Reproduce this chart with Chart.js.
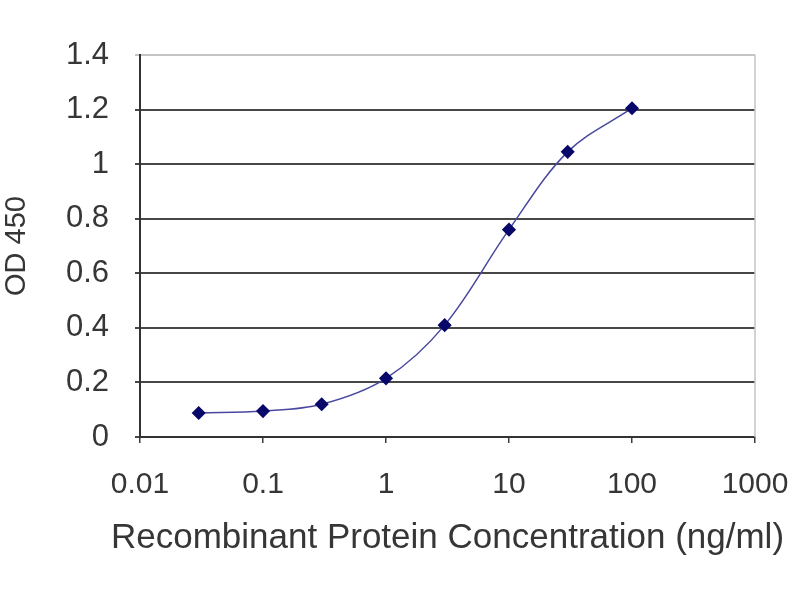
<!DOCTYPE html>
<html>
<head>
<meta charset="utf-8">
<script src="https://cdn.jsdelivr.net/npm/chart.js@4"></script>
<style>
  html, body { margin: 0; padding: 0; background: #fff; }
  #wrap { width: 800px; height: 600px; }
</style>
</head>
<body>
<div id="wrap"><canvas id="elisaCanvas" width="800" height="600"></canvas></div>
<script>
// concentrations (ng/ml) and measured OD 450
const concentrations = [0.03, 0.1, 0.3, 1, 3, 10, 30, 100];
const odValues = [0.088, 0.095, 0.12, 0.215, 0.41, 0.76, 1.045, 1.205];
const xTicks = [0.01, 0.1, 1, 10, 100, 1000];
const xTickLabels = ['0.01', '0.1', '1', '10', '100', '1000'];
const yTicks = [0, 0.2, 0.4, 0.6, 0.8, 1, 1.2, 1.4];
const xTitle = 'Recombinant Protein Concentration (ng/ml)';

const textColor = '#363636';
const fontFamily = '"Liberation Sans", Arial, sans-serif';

/* light grey right edge of the plot box + x title wider than the plot area */
const frameExtras = {
  id: 'frameExtras',
  afterDraw(chart) {
    const { ctx, chartArea: { left, right, top, bottom } } = chart;
    ctx.save();
    ctx.strokeStyle = '#c4c4c4';
    ctx.lineWidth = 1.5;
    ctx.beginPath();
    ctx.moveTo(right, top);
    ctx.lineTo(right, bottom);
    ctx.stroke();

    ctx.fillStyle = textColor;
    ctx.font = `35px ${fontFamily}`;
    ctx.textAlign = 'center';
    ctx.textBaseline = 'middle';
    ctx.fillText(xTitle, (left + right) / 2, bottom + 101);
    ctx.restore();
  },
};

const ctx = document.getElementById('elisaCanvas').getContext('2d');

window.elisaChart = new Chart(ctx, {
  type: 'line',
  data: {
    datasets: [
      {
        data: concentrations.map((x, i) => ({ x, y: odValues[i] })),
        borderColor: '#4848a0',
        borderWidth: 1.5,
        backgroundColor: '#08086a',
        pointBackgroundColor: '#08086a',
        pointBorderColor: '#08086a',
        pointStyle: 'rectRot',
        pointRadius: 6,
        tension: 0.35,
        fill: false,
      },
    ],
  },
  plugins: [frameExtras],
  options: {
    responsive: false,
    animation: false,
    layout: { padding: { top: 55, right: 45, left: 0, bottom: 36 } },
    plugins: {
      legend: { display: false },
      tooltip: { enabled: false },
    },
    scales: {
      x: {
        type: 'logarithmic',
        min: 0.01,
        max: 1000,
        afterBuildTicks(scale) {
          scale.ticks = xTicks.map(value => ({ value }));
        },
        afterFit(scale) {
          scale.height = 127;
          scale.paddingLeft = 0;
          scale.paddingRight = 0;
        },
        ticks: {
          autoSkip: false,
          maxRotation: 0,
          padding: 24,
          color: textColor,
          font: { family: fontFamily, size: 30 },
          callback: (value) => {
            const idx = xTicks.indexOf(value);
            return idx >= 0 ? xTickLabels[idx] : '';
          },
        },
        grid: {
          drawOnChartArea: false,
          drawTicks: true,
          tickLength: 6,
          lineWidth: 1.5,
          color: '#3c3c3c',
        },
        border: { display: true, color: '#333', width: 2 },
        title: { display: false },
      },
      y: {
        min: 0,
        max: 1.4,
        afterBuildTicks(scale) {
          scale.ticks = yTicks.map(value => ({ value }));
        },
        afterFit(scale) {
          scale.width = 140;
        },
        ticks: {
          padding: 26,
          color: textColor,
          font: { family: fontFamily, size: 31 },
          callback: value => String(Math.round(value * 10) / 10),
        },
        grid: {
          tickLength: 5,
          lineWidth: 2,
          color: ctx => (ctx.tick && ctx.tick.value === 1.4 ? '#c4c4c4' : '#474747'),
        },
        border: { display: true, color: '#333', width: 2 },
        title: {
          display: true,
          text: 'OD 450',
          color: textColor,
          font: { family: fontFamily, size: 29 },
          padding: { top: 0, bottom: 0 },
        },
      },
    },
  },
});
</script>
</body>
</html>
